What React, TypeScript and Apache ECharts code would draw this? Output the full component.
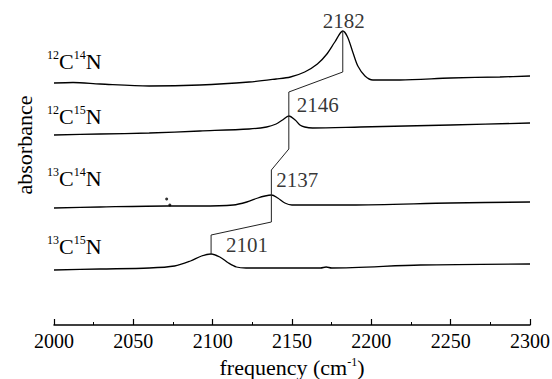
import React, { useEffect, useRef } from "react";
import * as echarts from "echarts";

// x-axis ticks (frequency, cm^-1)
const freqMin = 2000;
const freqMax = 2300;
const freqStep = 50;

// spectra: [frequency, absorbance (offset, arbitrary units)]
const c12n14 = [
  [2000, 2.42], [2012, 2.425], [2029, 2.41], [2060, 2.39], [2092, 2.4], [2123, 2.43],
  [2140, 2.46], [2149, 2.48], [2158, 2.53], [2166, 2.61], [2172, 2.71], [2177, 2.83],
  [2182, 2.94], [2185, 2.88], [2188.5, 2.72], [2191.5, 2.59], [2196, 2.49], [2201, 2.45],
  [2218, 2.45], [2250, 2.47], [2281, 2.48], [2300, 2.49],
];
const c12n15 = [
  [2000, 1.9], [2029, 1.91], [2060, 1.92], [2092, 1.94], [2123, 1.96], [2134, 1.98],
  [2140, 2.01], [2144, 2.05], [2148, 2.09], [2152, 2.05], [2155, 2.0], [2158, 1.98],
  [2163, 1.97], [2193, 1.98], [2250, 2.0], [2300, 2.02],
];
const c13n14 = [
  [2000, 1.17], [2029, 1.18], [2071, 1.19], [2092, 1.19], [2113, 1.2], [2121.5, 1.23],
  [2128.5, 1.27], [2133, 1.29], [2137, 1.3], [2141, 1.27], [2145.5, 1.22], [2150, 1.2],
  [2187, 1.2], [2250, 1.22], [2300, 1.23],
];
const c13n15 = [
  [2000, 0.55], [2029, 0.56], [2060, 0.57], [2076, 0.59], [2086, 0.64], [2093, 0.69],
  [2099, 0.71], [2104.5, 0.68], [2110, 0.62], [2115, 0.58], [2121, 0.57], [2140, 0.57],
  [2168, 0.57], [2171.5, 0.58], [2175, 0.57], [2231, 0.6], [2300, 0.61],
];

// small specks on the 13C14N trace
const specks = [[2071, 1.26], [2073, 1.2]];

// peak connectors
const connA = [[2182, 2.94], [2182, 2.53], [2148, 2.33], [2148, 2.09]];
const connB = [[2148, 2.09], [2148, 1.76], [2137, 1.55], [2137, 1.3]];
const connC = [[2137, 1.3], [2137, 1.03], [2099, 0.9], [2099, 0.71]];

// peaks
const peakFreq = [2182, 2148, 2137, 2099];
const peakAbs = [2.94, 2.09, 1.3, 0.71];
const peakLabels = ["2182", "2146", "2137", "2101"];

// isotopologue labels
const isoA = ["12", "12", "13", "13"];
const isoB = ["14", "15", "14", "15"];

const FONT = "Liberation Serif, Times New Roman, DejaVu Serif, serif";

export default function App() {
  const ref = useRef<HTMLDivElement>(null);
  useEffect(() => {
    document.body.style.margin = "0";
    const chart = echarts.init(ref.current!, null, { renderer: "svg" });

    const lineSeries = (data: number[][], width: number, color: string, smooth: number | boolean) => ({
      type: "line",
      data,
      smooth,
      symbol: "none",
      lineStyle: { color, width },
      silent: true,
    });

    const offsets = [[1, -10], [29, -11], [26, -15], [36, -9]];
    const isoY = [61, 116, 178, 246];

    const option: any = {
      animation: false,
      textStyle: { fontFamily: FONT },
      grid: { left: 54, right: 22, top: 25, bottom: 54, containLabel: false, outerBoundsMode: "none" },
      xAxis: {
        type: "value",
        min: freqMin,
        max: freqMax,
        interval: freqStep,
        axisLine: { lineStyle: { color: "#000", width: 1.5 } },
        axisTick: { inside: true, length: 6, lineStyle: { color: "#000", width: 1.2 } },
        minorTick: { show: true, splitNumber: 2, length: 3, lineStyle: { color: "#000", width: 1 } },
        splitLine: { show: false },
        minorSplitLine: { show: false },
        axisLabel: {
          margin: 6,
          fontSize: 20,
          color: "#000",
          fontFamily: FONT,
          formatter: (v: number) => String(v),
        },
        name: "frequency (cm{s|-1})",
        nameLocation: "middle",
        nameGap: 28,
        nameTextStyle: {
          fontSize: 22,
          color: "#000",
          fontFamily: FONT,
          lineHeight: 24,
          rich: {
            s: { fontSize: 12, verticalAlign: "top", lineHeight: 14, color: "#000", fontFamily: FONT },
          },
        },
      },
      yAxis: {
        type: "value",
        min: 0,
        max: 3,
        show: false,
      },
      series: [
        lineSeries(c12n14, 1.3, "#000", 0.3),
        lineSeries(c12n15, 1.3, "#000", 0.3),
        lineSeries(c13n14, 1.3, "#000", 0.3),
        lineSeries(c13n15, 1.3, "#000", 0.3),
        lineSeries(connA, 1, "#222", false),
        lineSeries(connB, 1, "#222", false),
        lineSeries(connC, 1, "#222", false),
        {
          type: "scatter",
          data: specks,
          symbolSize: 3,
          itemStyle: { color: "#000" },
          silent: true,
        },
        {
          type: "scatter",
          symbolSize: 1,
          itemStyle: { color: "rgba(0,0,0,0)" },
          silent: true,
          data: peakFreq.map((f, i) => ({
            value: [f, peakAbs[i]],
            label: { offset: offsets[i] },
          })),
          label: {
            show: true,
            position: "inside",
            formatter: (p: any) => peakLabels[p.dataIndex],
            fontSize: 21,
            color: "#000",
            fontFamily: FONT,
          },
        },
      ],
      graphic: [
        ...isoA.map((a, i) => ({
          type: "text",
          x: 47,
          y: isoY[i],
          silent: true,
          style: {
            text: `{s|${a}}{b|C}{s|${isoB[i]}}{b|N}`,
            verticalAlign: "middle",
            fill: "#000",
            fontFamily: FONT,
            rich: {
              s: { fontSize: 12, lineHeight: 14, verticalAlign: "top", fontFamily: FONT, fill: "#000" },
              b: { fontSize: 22, lineHeight: 24, fontFamily: FONT, fill: "#000" },
            },
          },
        })),
        {
          type: "text",
          x: 24,
          y: 145,
          rotation: Math.PI / 2,
          silent: true,
          style: {
            text: "absorbance",
            fontSize: 22,
            fontFamily: FONT,
            fill: "#000",
            align: "center",
            verticalAlign: "middle",
          },
        },
      ],
    };

    chart.setOption(option);
    return () => chart.dispose();
  }, []);
  return <div ref={ref} style={{ width: 552, height: 379 }} />;
}
